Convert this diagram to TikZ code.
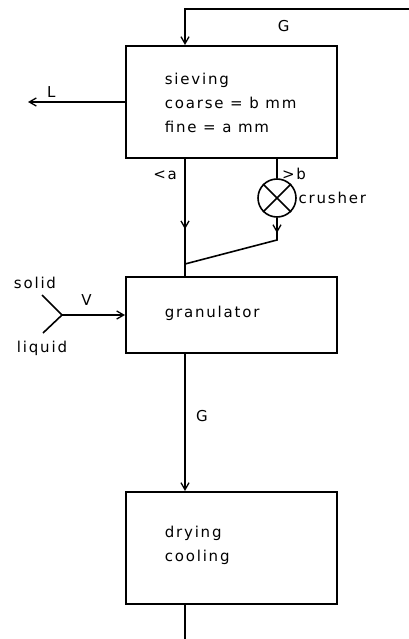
\documentclass[tikz,border=0pt]{standalone}
\usepackage{fontspec}
\setmainfont{DejaVu Sans}[LetterSpace=12]
\usetikzlibrary{arrows.meta,decorations.markings}

\begin{document}
\begin{tikzpicture}[x=1pt,y=-1pt,line width=1.6pt,
        every node/.style={font=\fontsize{15}{24}\selectfont},
        unit/.style={draw,line width=2pt,minimum width=211pt,inner sep=0pt},
        txt/.style={anchor=west,align=left,inner sep=0pt},
        tip/.style={-{Straight Barb[length=7pt,width=8pt,line width=1.3pt]}},
        midtip/.style={postaction={decorate},decoration={markings,
            mark=at position #1 with {\arrow{Straight Barb[length=7pt,width=8pt,line width=1.3pt]}}}}]
            \useasboundingbox (0,0) rectangle (409,639);
            \coordinate (col) at (185,0);
            \coordinate (fb) at (409,9);
            \coordinate (lout) at (28,102);
            \coordinate (mix) at (62,315);
            \coordinate (solidend) at (42,295);
            \coordinate (liquidend) at (43,333);
            \coordinate (bend) at (277,240);
            \coordinate (join) at (185,264);
            \coordinate (out) at (185,639);
            \node[unit,minimum height=112pt] (sieve) at (231.5,102) {};
            \node[unit,minimum height=76pt] (gran) at (231.5,315) {};
            \node[unit,minimum height=112pt] (dry) at (231.5,548) {};
            \node[draw,circle,minimum size=38pt,inner sep=0pt,
                label={[inner sep=1pt]right:crusher}] (crusher) at (277,198) {};
            \node[txt] (sievetxt) at (164,103) {sieving\\coarse = b mm\\fine = a mm};
            \node[txt] (grantxt) at (164,313) {granulator};
            \node[txt] (drytxt) at (164,545) {drying\\cooling};
            \node (solid) at (35,283) {solid};
            \node (liquid) at (42,348) {liquid};
            \draw (crusher.45) -- (crusher.225) (crusher.135) -- (crusher.-45);
            \draw[tip] (fb) -| (sieve.north -| col) node[pos=0.28,below=7pt] {G};
            \draw[tip] (sieve.west) -- (lout) node[pos=0.76,above] {L};
            \draw[midtip=0.6] (sieve.south -| col) -- (gran.north -| col) node[pos=0.14,left=4pt] {<a};
            \draw (sieve.south -| crusher) -- (crusher) node[pos=0.8,right=1pt] {>b};
            \draw[midtip=0.13] (crusher) -- (bend) -- (join);
            \draw (solidend) -- (mix) -- (liquidend);
            \draw[tip] (mix) -- (gran.west) node[pos=0.39,above=5pt] {V};
            \draw[tip] (gran.south -| col) -- (dry.north -| col) node[pos=0.45,right=7pt] {G};
            \draw (dry.south -| col) -- (out);
        \end{tikzpicture}
\end{document}
